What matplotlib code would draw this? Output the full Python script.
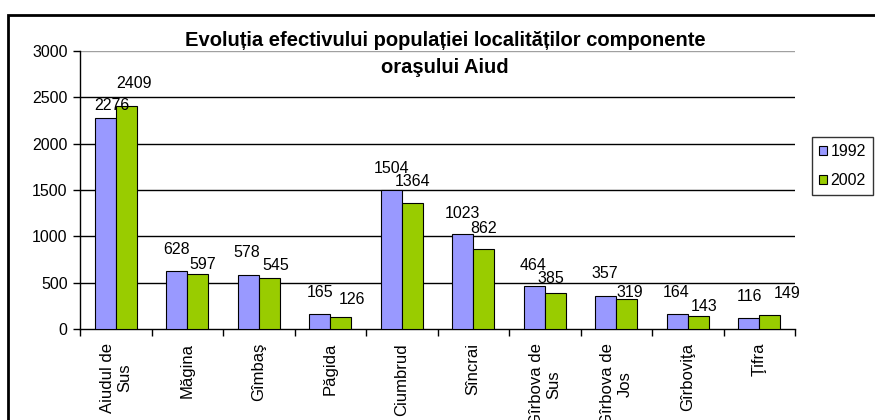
import matplotlib
matplotlib.use("Agg")
import matplotlib.pyplot as plt
import numpy as np
from matplotlib.patches import Rectangle

categories = ["Aiudul de\nSus", "Măgina", "Gîmbaş", "Păgida", "Ciumbrud", "Sîncrai",
              "Gîrbova de\nSus", "Gîrbova de\nJos", "Gîrboviţa", "Ţifra"]
series_names = ["1992", "2002"]
values_1992 = [2276, 628, 578, 165, 1504, 1023, 464, 357, 164, 116]
values_2002 = [2409, 597, 545, 126, 1364, 862, 385, 319, 143, 149]
yticks = [0, 500, 1000, 1500, 2000, 2500, 3000]
title = "Evoluția efectivului populației localităților componente\noraşului Aiud"

# label placement offsets (pixels, relative to the top-centre of each bar)
label_dx_1992 = [7, 0, -1, 0, 0, 0, -1, -1, -1, 1]
label_dy_1992 = [13, 21, 23, 21, 21, 21, 21, 22, 21, 22]
label_dx_2002 = [8, 5, 6, 11, 0, 0, -4, 3, 6, 17]
label_dy_2002 = [22, 9, 13, 18, 21, 21, 15, 7, 9, 22]

plt.rcParams['font.family'] = ['Liberation Sans', 'DejaVu Sans']

fig = plt.figure(figsize=(8.75, 4.2), dpi=100)
ax = fig.add_axes([80/875, 1-329/420, 715/875, 278/420])

x = np.arange(len(categories))
w = 0.294
c1 = "#9999FF"
c2 = "#99CC00"
b1 = ax.bar(x - w/2, values_1992, w, color=c1, edgecolor="black", linewidth=0.8, label=series_names[0], zorder=3)
b2 = ax.bar(x + w/2, values_2002, w, color=c2, edgecolor="black", linewidth=0.8, label=series_names[1], zorder=3)

px = 72 / 100
for rects, vals, dxs, dys in ((b1, values_1992, label_dx_1992, label_dy_1992),
                              (b2, values_2002, label_dx_2002, label_dy_2002)):
    for r, v, dx, dy in zip(rects, vals, dxs, dys):
        ax.annotate(str(v), (r.get_x() + r.get_width()/2, v), xytext=(dx*px, dy*px),
                    textcoords="offset points", ha="center", va="center", fontsize=11.5,
                    zorder=4, annotation_clip=False)

ax.set_xlim(-0.5, len(categories) - 0.5)
ax.set_ylim(0, 3000)
ax.set_yticks(yticks)
ax.tick_params(axis='y', labelsize=11.5, length=5, width=1, direction='out', pad=4)
for yv in yticks[1:]:
    ax.axhline(yv, color="black" if yv < 3000 else "#a0a0a0", linewidth=1, zorder=1)

ax.set_xticks(x)
ax.set_xticklabels(categories, rotation=90, fontsize=12, ha="center", va="top", multialignment="center")
ax.tick_params(axis='x', length=0, pad=10)
ax.set_xticks(np.arange(-0.5, len(categories)), minor=True)
ax.tick_params(axis='x', which='minor', length=5, width=1, direction='out')

for s in ("top", "right"):
    ax.spines[s].set_visible(False)
ax.spines["left"].set_linewidth(1)
ax.spines["bottom"].set_linewidth(1)

fig.text(445/875, 1-54/420, title, ha="center", va="center", fontsize=14.5,
         fontweight="bold", linespacing=1.55)

leg = fig.legend(handles=[b1, b2], labels=series_names, loc="upper left",
                 bbox_to_anchor=(812/875, 1-137/420), frameon=True, fancybox=False,
                 edgecolor="black", fontsize=11.5, handlelength=0.5, handleheight=0.5,
                 handletextpad=0.2, borderpad=0.45, labelspacing=0.85, borderaxespad=0)
leg.get_frame().set_linewidth(1)

fig.patches.append(Rectangle((8/875, -0.1), 1.1, 1.1 - 15/420, transform=fig.transFigure,
                             fill=False, edgecolor="black", linewidth=2))

fig.savefig("out.png", dpi=100)
